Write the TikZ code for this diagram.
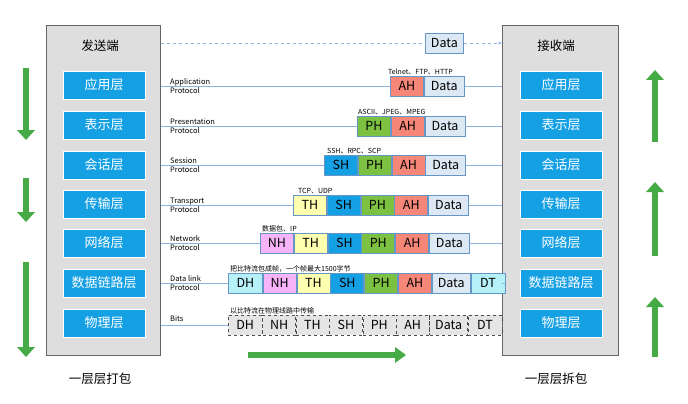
\documentclass[tikz,border=0pt]{standalone}
\usepackage{fontspec}
\setmainfont{Noto Sans CJK SC}
\usetikzlibrary{arrows.meta}
\definecolor{lay}{RGB}{22,160,228}
\definecolor{panel}{RGB}{222,222,222}
\definecolor{cAH}{RGB}{246,135,120}
\definecolor{cPH}{RGB}{125,193,66}
\definecolor{cSH}{RGB}{22,160,228}
\definecolor{cTH}{RGB}{255,255,176}
\definecolor{cNH}{RGB}{248,180,248}
\definecolor{cDH}{RGB}{182,240,248}
\definecolor{cData}{RGB}{220,232,244}
\definecolor{bord}{RGB}{100,150,200}
\definecolor{ln}{RGB}{140,180,225}
\definecolor{grn}{RGB}{70,170,70}
\begin{document}
\begin{tikzpicture}[x=1pt,y=-1pt,
  panelS/.style={draw=black!60,fill=panel,line width=0.6pt},
  layer/.style={fill=lay,draw=white,text=white,minimum width=82pt,minimum height=28pt,inner sep=0pt,font=\fontsize{13}{13}\selectfont},
  cell/.style={draw=bord,line width=0.8pt,minimum height=20pt,inner sep=0pt,font=\fontsize{12.5}{12.5}\selectfont,anchor=west},
  dcell/.style={draw=black!70,dashed,fill=black!10,minimum height=20pt,inner sep=0pt,font=\fontsize{12.5}{12.5}\selectfont,anchor=west},
  proto/.style={font=\fontsize{7.5}{9}\selectfont,align=left,anchor=west,inner sep=0pt},
  note/.style={font=\fontsize{7}{7}\selectfont,inner sep=0pt,anchor=south west},
  conn/.style={draw=ln,line width=0.8pt},
  title/.style={font=\fontsize{12.5}{12.5}\selectfont}]
\useasboundingbox (0,0) rectangle (688,404);
\node[panelS,minimum width=114pt,minimum height=330pt,inner sep=0pt,anchor=north west] (L) at (46,25) {};
\node[panelS,minimum width=116pt,minimum height=330pt,inner sep=0pt,anchor=north west] (R) at (502,25) {};
\node[title] (t1) at (100,46) {发送端};
\node[title] (t2) at (556,46) {接收端};
\node[title] (b1) at (100,379) {一层层打包};
\node[title] (b2) at (556,379) {一层层拆包};
\foreach \n/\t/\y in {1/应用层/85,2/表示层/125,3/会话层/165,4/传输层/204,5/网络层/243,6/数据链路层/283,7/物理层/323}{
  \node[layer] (l\n) at (104,\y) {\t};
  \node[layer] (r\n) at (561,\y) {\t};
}
\node[cell,fill=cData,minimum width=38pt] (d0) at (425,43) {Data};
\draw[conn,dashed] (L.east|-d0) -- (d0.west);
\draw[conn,dashed,-{Stealth[length=4pt]}] (d0.east) -- (R.west|-d0);
\node[cell,fill=cAH,minimum width=33pt] (a1) at (390,86) {AH};
\node[cell,fill=cData,minimum width=40pt] (a2) at (a1.east) {Data};
\node[note] (n1) at (388,75) {Telnet、FTP、HTTP};
\node[cell,fill=cPH,minimum width=33pt] (p1) at (357,126) {PH};
\node[cell,fill=cAH,minimum width=33pt] (p2) at (p1.east) {AH};
\node[cell,fill=cData,minimum width=40pt] (p3) at (p2.east) {Data};
\node[note] (n2) at (358,115) {ASCII、JPEG、MPEG};
\node[cell,fill=cSH,minimum width=33pt] (s1) at (324,165) {SH};
\node[cell,fill=cPH,minimum width=33pt] (s2) at (s1.east) {PH};
\node[cell,fill=cAH,minimum width=33pt] (s3) at (s2.east) {AH};
\node[cell,fill=cData,minimum width=40pt] (s4) at (s3.east) {Data};
\node[note] (n3) at (327,154) {SSH、RPC、SCP};
\node[cell,fill=cTH,minimum width=33pt] (tr1) at (293,205) {TH};
\node[cell,fill=cSH,minimum width=33pt] (tr2) at (tr1.east) {SH};
\node[cell,fill=cPH,minimum width=33pt] (tr3) at (tr2.east) {PH};
\node[cell,fill=cAH,minimum width=33pt] (tr4) at (tr3.east) {AH};
\node[cell,fill=cData,minimum width=40pt] (tr5) at (tr4.east) {Data};
\node[note] (n4) at (298,194) {TCP、UDP};
\node[cell,fill=cNH,minimum width=33pt] (nw1) at (260,243) {NH};
\node[cell,fill=cTH,minimum width=33pt] (nw2) at (nw1.east) {TH};
\node[cell,fill=cSH,minimum width=33pt] (nw3) at (nw2.east) {SH};
\node[cell,fill=cPH,minimum width=33pt] (nw4) at (nw3.east) {PH};
\node[cell,fill=cAH,minimum width=33pt] (nw5) at (nw4.east) {AH};
\node[cell,fill=cData,minimum width=40pt] (nw6) at (nw5.east) {Data};
\node[note] (n5) at (262,232) {数据包、IP};
\node[cell,fill=cDH,minimum width=34pt] (dl1) at (228,283) {DH};
\node[cell,fill=cNH,minimum width=33pt] (dl2) at (dl1.east) {NH};
\node[cell,fill=cTH,minimum width=33pt] (dl3) at (dl2.east) {TH};
\node[cell,fill=cSH,minimum width=33pt] (dl4) at (dl3.east) {SH};
\node[cell,fill=cPH,minimum width=33pt] (dl5) at (dl4.east) {PH};
\node[cell,fill=cAH,minimum width=33pt] (dl6) at (dl5.east) {AH};
\node[cell,fill=cData,minimum width=38pt] (dl7) at (dl6.east) {Data};
\node[cell,fill=cDH,minimum width=34pt] (dl8) at (dl7.east) {DT};
\node[note] (n6) at (230,272) {把比特流包成帧，一个帧最大1500字节};
\node[dcell,minimum width=34pt] (b01) at (228,325) {DH};
\node[dcell,minimum width=33pt] (b02) at (b01.east) {NH};
\node[dcell,minimum width=33pt] (b03) at (b02.east) {TH};
\node[dcell,minimum width=33pt] (b04) at (b03.east) {SH};
\node[dcell,minimum width=33pt] (b05) at (b04.east) {PH};
\node[dcell,minimum width=33pt] (b06) at (b05.east) {AH};
\node[dcell,minimum width=38pt] (b07) at (b06.east) {Data};
\node[dcell,minimum width=34pt] (b08) at (b07.east) {DT};
\node[note] (n7) at (230,314) {以比特流在物理线路中传输};
\foreach \a/\b in {a1/a2,p1/p3,s1/s4,tr1/tr5,nw1/nw6,dl1/dl8,b01/b08}{
  \draw[conn] (L.east|-\a) -- (\a.west);
  \draw[conn] (\b.east) -- (R.west|-\b);
}
\node[proto] (q1) at (170,86) {Application\\Protocol};
\node[proto] (q2) at (170,126) {Presentation\\Protocol};
\node[proto] (q3) at (170,165) {Session\\Protocol};
\node[proto] (q4) at (170,205) {Transport\\Protocol};
\node[proto] (q5) at (170,243) {Network\\Protocol};
\node[proto] (q6) at (170,283) {Data link\\Protocol};
\node[proto] (q7) at (170,319) {Bits};
\foreach \ya/\yb in {68/140,178/222,262/357}{
  \fill[grn] (23,\ya) rectangle (29,\yb-10);
  \fill[grn] (17,\yb-10) -- (35,\yb-10) -- (26,\yb) -- cycle;
}
\foreach \ya/\yb in {70/142,182/256,297/357}{
  \fill[grn] (652,\ya+10) rectangle (658,\yb);
  \fill[grn] (646,\ya+10) -- (664,\ya+10) -- (655,\ya) -- cycle;
}
\fill[grn] (248,352) rectangle (395,358);
\fill[grn] (395,347) -- (395,363) -- (406,355) -- cycle;
\end{tikzpicture}
\end{document}
